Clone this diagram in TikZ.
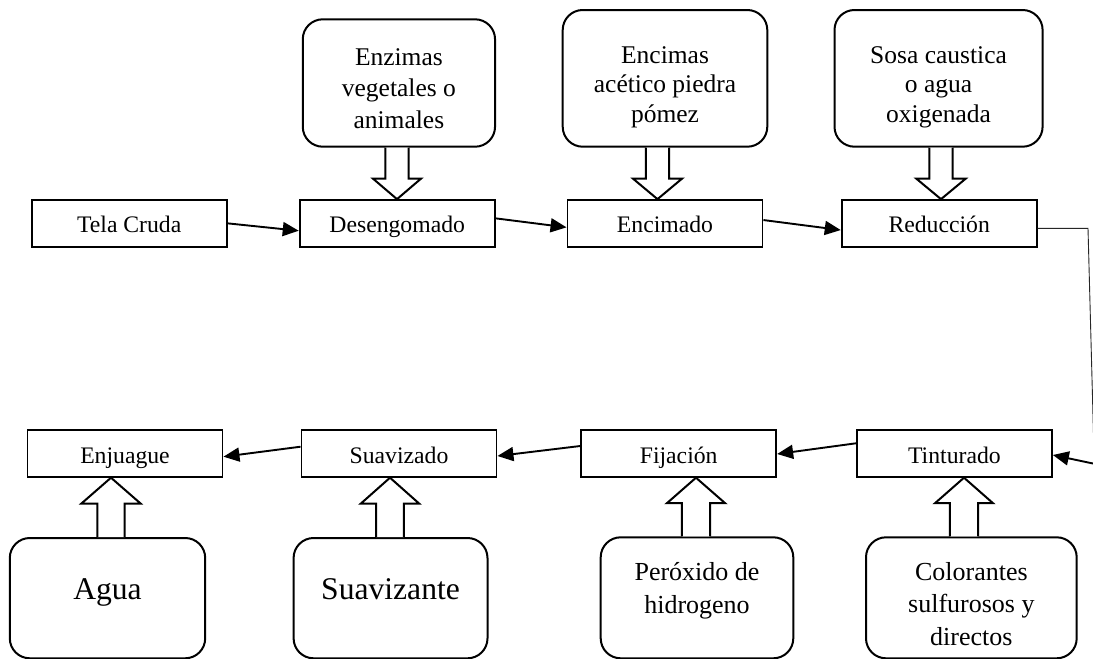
\documentclass[tikz,border=0pt]{standalone}
\usepackage{fontspec}
\setmainfont{Liberation Serif}
\usetikzlibrary{arrows.meta,calc}
\newcommand\blkarrow[6]{%
  \path (#1,0) coordinate (bx);
  \draw[blk] ($(bx |- #2)+(-#4,0)$) -- ($(bx |- #3)+(-#4,{-(#6)})$) -- ($(bx |- #3)+(-#5,{-(#6)})$) -- (bx |- #3) -- ($(bx |- #3)+(#5,{-(#6)})$) -- ($(bx |- #3)+(#4,{-(#6)})$) -- ($(bx |- #2)+(#4,0)$);}
\begin{document}
\begin{tikzpicture}[x=1pt,y=-1pt,
  box/.style={draw, line width=1.9pt, minimum width=195pt, minimum height=46.5pt, inner sep=0pt,
    font=\fontsize{23.7}{28}\selectfont, text height=19pt, text depth=0pt},
  rbox/.style={draw, line width=2pt, rounded corners=20pt, inner sep=0pt},
  rtext/.style={align=center, inner sep=0pt, anchor=base},
  flow/.style={line width=1.9pt, -{Triangle[length=16pt,width=14pt]}},
  thinline/.style={line width=0.9pt, black!85},
  blk/.style={line width=2pt, fill=white, line join=miter}
]
\clip (0,0) rectangle (1093,659);
\useasboundingbox (0,0) rectangle (1093,659);
\fill[white] (0,0) rectangle (1093,659);

% process boxes, top row
\node[box] (tela) at (129.2,223.35) {Tela Cruda};
\node[box] (des)  at (397.2,223.35) {Desengomado};
\node[box] (encd) at (665,223.35) {Encimado};
\node[box] (red)  at (939.2,223.35) {Reducción};
% process boxes, bottom row
\node[box] (enj) at (125,453.5) {Enjuague};
\node[box] (sua) at (399,453.5) {Suavizado};
\node[box] (fij) at (678.7,453.5) {Fijación};
\node[box] (tin) at (954.4,453.5) {Tinturado};

% input boxes, top (text anchored at the baseline of the last line)
\node[rbox, minimum width=192.3pt, minimum height=127.4pt] (enz) at (398.9,83) {};
\node[rtext, font=\fontsize{25.5}{31.5}\selectfont] (enzt) at (398.9,128) {Enzimas\\vegetales o\\animales};
\node[rbox, minimum width=204.6pt, minimum height=136.7pt] (encs) at (665,78.35) {};
\node[rtext, font=\fontsize{25.5}{29.5}\selectfont] (encst) at (665,122) {Encimas\\acético piedra\\pómez};
\node[rbox, minimum width=208.1pt, minimum height=136.7pt] (sosa) at (938.55,78.35) {};
\node[rtext, font=\fontsize{25.5}{29.5}\selectfont] (sosat) at (938.55,122) {Sosa caustica\\o agua\\oxigenada};

% input boxes, bottom
\node[rbox, minimum width=195.4pt, minimum height=120.3pt] (agua) at (107.5,598.15) {};
\node[rtext, font=\fontsize{31.6}{36}\selectfont] (aguat) at (107.5,599) {Agua};
\node[rbox, minimum width=193.9pt, minimum height=120.3pt] (suav) at (390.55,598.15) {};
\node[rtext, font=\fontsize{31.6}{36}\selectfont] (suavt) at (390.55,599) {Suavizante};
\node[rbox, minimum width=192.6pt, minimum height=121pt] (perox) at (697,597.8) {};
\node[rtext, font=\fontsize{26}{33.3}\selectfont] (peroxt) at (697,613.3) {Peróxido de\\hidrogeno};
\node[rbox, minimum width=210.7pt, minimum height=121pt] (color) at (971.35,597.8) {};
\node[rtext, font=\fontsize{26}{32.5}\selectfont] (colort) at (971.35,645) {Colorantes\\sulfurosos y\\directos};

% block arrows
\blkarrow{397}{enz.south}{des.north}{11.7}{24}{20.5}
\blkarrow{657.5}{encs.south}{encd.north}{11.7}{24.5}{20.5}
\blkarrow{941}{sosa.south}{red.north}{11.7}{24.7}{20.5}
\blkarrow{111}{agua.north}{enj.south}{13.7}{29.8}{-26}
\blkarrow{390}{suav.north}{sua.south}{13.9}{29.3}{-26}
\blkarrow{696}{perox.north}{fij.south}{14.1}{29.1}{-25.5}
\blkarrow{964}{color.north}{tin.south}{14.1}{29}{-25.5}

% flow connectors
\draw[flow] (tela.east) -- ($(des.west)+(0,7.4)$);
\draw[flow] ($(des.east)+(0,-5)$) -- ($(encd.west)+(0,4)$);
\draw[flow] ($(encd.east)+(0,-3.3)$) -- ($(red.west)+(0,6.7)$);
\coordinate (rc) at (1088,228.3);
\coordinate (rd) at (1095.5,510);
\draw[thinline] ($(red.east)+(0,5)$) -- (rc) -- (rd);
\coordinate (re) at (1100,465);
\draw[flow] (re) -- ($(tin.east)+(0,1.5)$);
\draw[flow] ($(tin.west)+(0,-10.2)$) -- ($(fij.east)+(0,0.5)$);
\draw[flow] ($(fij.west)+(0,-7.5)$) -- ($(sua.east)+(0,2.5)$);
\draw[flow] ($(sua.west)+(0,-6.8)$) -- ($(enj.east)+(0,3.2)$);
\end{tikzpicture}
\end{document}
